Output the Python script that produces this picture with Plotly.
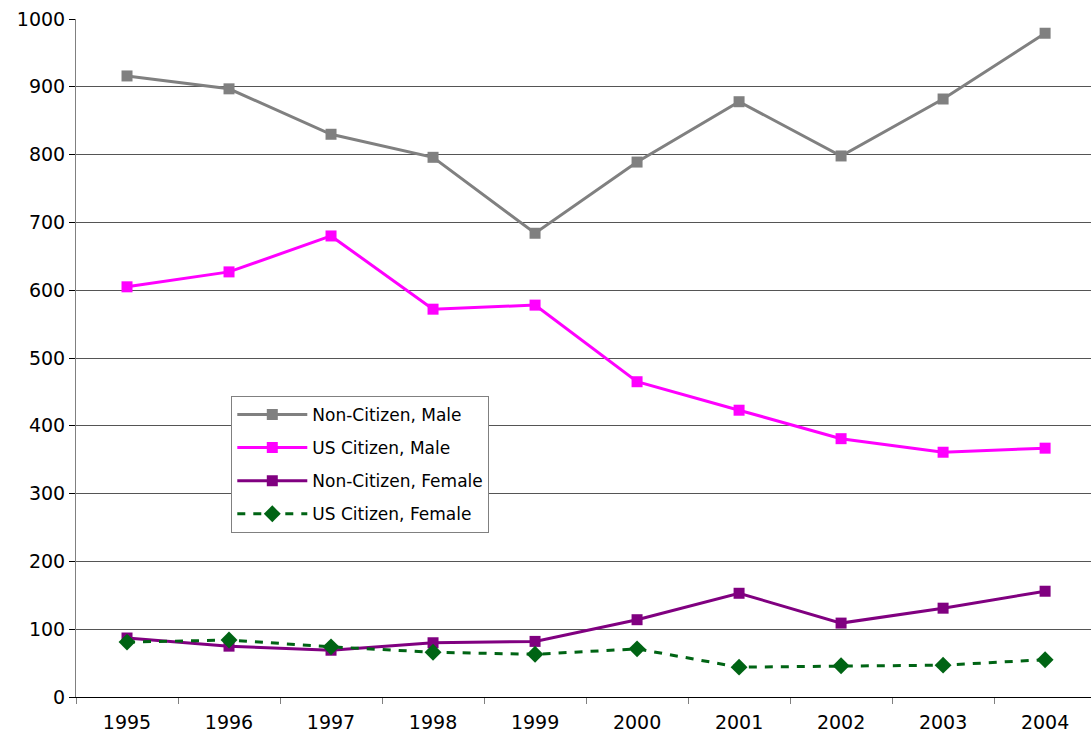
import plotly.graph_objects as go

years = ["1995", "1996", "1997", "1998", "1999", "2000", "2001", "2002", "2003", "2004"]
non_citizen_male = [916, 897, 830, 796, 684, 789, 878, 798, 882, 979]
us_citizen_male = [605, 627, 680, 572, 578, 465, 423, 381, 361, 367]
non_citizen_female = [87, 75, 69, 80, 82, 114, 153, 109, 131, 156]
us_citizen_female = [81, 84, 74, 66, 63, 71, 44, 46, 47, 55]

fig = go.Figure()
fig.add_trace(go.Scatter(x=years, y=non_citizen_male, name="Non-Citizen, Male", legendgroup="a",
                         mode="lines+markers", line=dict(color="#808080", width=3),
                         marker=dict(symbol="square", size=11, color="#808080")))
fig.add_trace(go.Scatter(x=years, y=us_citizen_male, name="US Citizen, Male", legendgroup="b",
                         mode="lines+markers", line=dict(color="#FF00FF", width=3),
                         marker=dict(symbol="square", size=11, color="#FF00FF")))
fig.add_trace(go.Scatter(x=years, y=non_citizen_female, name="Non-Citizen, Female", legendgroup="c",
                         mode="lines+markers", line=dict(color="#800080", width=3),
                         marker=dict(symbol="square", size=11, color="#800080")))
fig.add_trace(go.Scatter(x=years, y=us_citizen_female, name="US Citizen, Female", legendgroup="d",
                         mode="lines+markers", line=dict(color="#006414", width=3, dash="8px,8px"),
                         marker=dict(symbol="diamond", size=13, color="#006414")))

fig.update_layout(
    width=1091, height=740,
    margin=dict(l=76, r=0, t=19, b=43),
    paper_bgcolor="white", plot_bgcolor="white",
    font=dict(family="DejaVu Sans", size=19, color="black"),
    showlegend=True,
    legend=dict(x=0.153, y=0.444, xanchor="left", yanchor="top",
                bordercolor="#808080", borderwidth=1, bgcolor="white",
                font=dict(size=17), itemwidth=70, tracegroupgap=8),
    xaxis=dict(type="category", range=[-0.5, 9.45], showgrid=False, automargin=False,
               showline=True, linecolor="black", linewidth=1,
               ticks="outside", tickson="boundaries", ticklen=6, tickcolor="#808080",
               ticklabelstandoff=8, tickfont=dict(size=19)),
    yaxis=dict(range=[0, 1000], dtick=100, showgrid=True, gridcolor="#555555", gridwidth=1,
               automargin=False,
               showline=True, linecolor="#808080", linewidth=1,
               ticks="outside", ticklen=6, tickcolor="black",
               zeroline=False, tickfont=dict(size=19)),
)

fig.write_html("out.html", config={"displayModeBar": False},
               post_script="document.body.style.margin='0';document.body.style.overflow='hidden';")
